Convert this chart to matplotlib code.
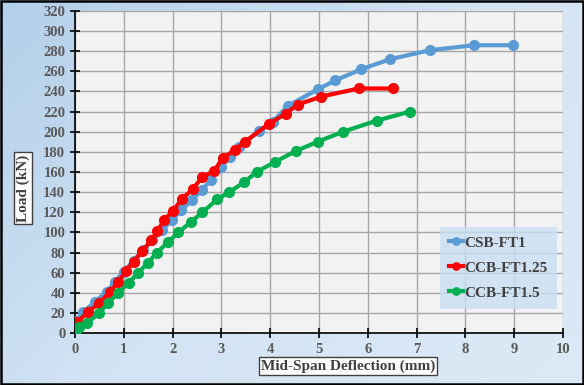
import numpy as np
import matplotlib
matplotlib.use("Agg")
import matplotlib.pyplot as plt
from matplotlib.colors import LinearSegmentedColormap

# load-deflection data
csb_d = [0.03, 0.17, 0.41, 0.65, 0.82, 1.0, 1.2, 1.4, 1.58, 1.78, 1.98, 2.18, 2.39, 2.60,
         2.78, 2.99, 3.18, 3.37, 3.78, 4.05, 4.37, 4.97, 5.33, 5.86, 6.45, 7.27, 8.18, 8.98]
csb_p = [12, 21, 31, 41, 51, 61, 72, 82, 92, 102, 112, 122, 132, 142,
         152, 165, 175, 185, 201, 210, 226, 242, 251, 262, 272, 281, 286, 286]

ccb125_d = [0.05, 0.27, 0.50, 0.72, 0.89, 1.05, 1.20, 1.37, 1.56, 1.69, 1.82, 2.00, 2.19,
            2.41, 2.61, 2.85, 3.03, 3.28, 3.48, 3.98, 4.32, 4.56, 5.05, 5.81, 6.51]
ccb125_p = [11, 21, 30, 41, 51, 62, 71, 81, 92, 101, 112, 121, 133,
            143, 155, 161, 174, 182, 190, 208, 218, 227, 235, 243, 243]

ccb15_d = [0, 0.03, 0.08, 0.25, 0.50, 0.68, 0.89, 1.10, 1.30, 1.50, 1.68, 1.90, 2.12,
           2.37, 2.61, 2.92, 3.16, 3.47, 3.72, 4.10, 4.53, 4.97, 5.49, 6.18, 6.86]
ccb15_p = [0, 2, 6, 10, 20, 30, 40, 50, 60, 70, 80, 90, 100,
           110, 120, 133, 140, 150, 160, 170, 181, 190, 200, 211, 220]

series = [
    ("CSB-FT1", csb_d, csb_p, "#5b9bd5"),
    ("CCB-FT1.25", ccb125_d, ccb125_p, "#ff0000"),
    ("CCB-FT1.5", ccb15_d, ccb15_p, "#00b050"),
]

x_ticks = np.arange(0, 11, 1)
y_ticks = np.arange(0, 321, 20)

plt.rcParams['font.family'] = ['Liberation Serif', 'DejaVu Serif']

fig = plt.figure(figsize=(5.84, 3.85), dpi=100)

# gradient background for the chart area
bg = fig.add_axes([0, 0, 1, 1], zorder=-10)
cmap = LinearSegmentedColormap.from_list("bg", ["#b3cfea", "#d3e4f4", "#dce9f6"])
gx, gy = np.meshgrid(np.linspace(0, 1, 200), np.linspace(0, 1, 200))
bg.imshow(0.6 * gx + 0.4 * gy, cmap=cmap, aspect="auto", extent=[0, 1, 0, 1], origin="upper")
bg.set_xlim(0, 1)
bg.set_ylim(0, 1)
bg.axis("off")
bg.add_patch(plt.Rectangle((0.002, 0.003), 0.996, 0.994, fill=False, ec="black", lw=1.8,
                           transform=bg.transAxes))

ax = fig.add_axes([75 / 584, 1 - 333 / 385, 488 / 584, 322 / 385])
ax.set_facecolor("#f2f2f2")

for name, d, p, c in series:
    ax.plot(d, p, color=c, lw=3, marker="o", ms=7, label=name, zorder=3)

ax.set_xlim(0, 10)
ax.set_ylim(0, 320)
ax.set_xticks(x_ticks)
ax.set_yticks(y_ticks)
ax.grid(True, color="#a6a6a6", lw=1)
ax.set_axisbelow(True)
for s in ["top", "right"]:
    ax.spines[s].set_visible(False)
for s in ["left", "bottom"]:
    ax.spines[s].set_color("black")
    ax.spines[s].set_linewidth(1.2)
ax.tick_params(direction="inout", length=7, width=1.2, colors="black",
               labelcolor="#595959", labelsize=10.5)
for lab in ax.get_xticklabels() + ax.get_yticklabels():
    lab.set_fontweight("bold")

box = dict(boxstyle="square,pad=0.15", fc="white", ec="#404040", lw=1)
fig.text(23 / 584, 1 - 188 / 385, "Load (kN)", rotation=90, ha="center", va="center",
         fontsize=11, fontweight="bold", color="#404040", bbox=box)
fig.text(348 / 584, 1 - 366 / 385, "Mid-Span Deflection (mm)", ha="center", va="center",
         fontsize=11, fontweight="bold", color="#404040", bbox=box)

leg = ax.legend(loc="lower right", bbox_to_anchor=(1 - 6 / 488, (333 - 309) / 322),
                frameon=True, fontsize=11, handlelength=0.9, labelspacing=0.75,
                borderpad=0.6, handletextpad=0.1, borderaxespad=0, markerscale=0.75)
leg.get_frame().set_facecolor("#c9def2")
leg.get_frame().set_edgecolor("none")
leg.get_frame().set_boxstyle("square", pad=0)
for t in leg.get_texts():
    t.set_fontweight("bold")
    t.set_color("#404040")
for h in leg.get_lines():
    h.set_linewidth(3)

fig.savefig("out.png", dpi=100)
